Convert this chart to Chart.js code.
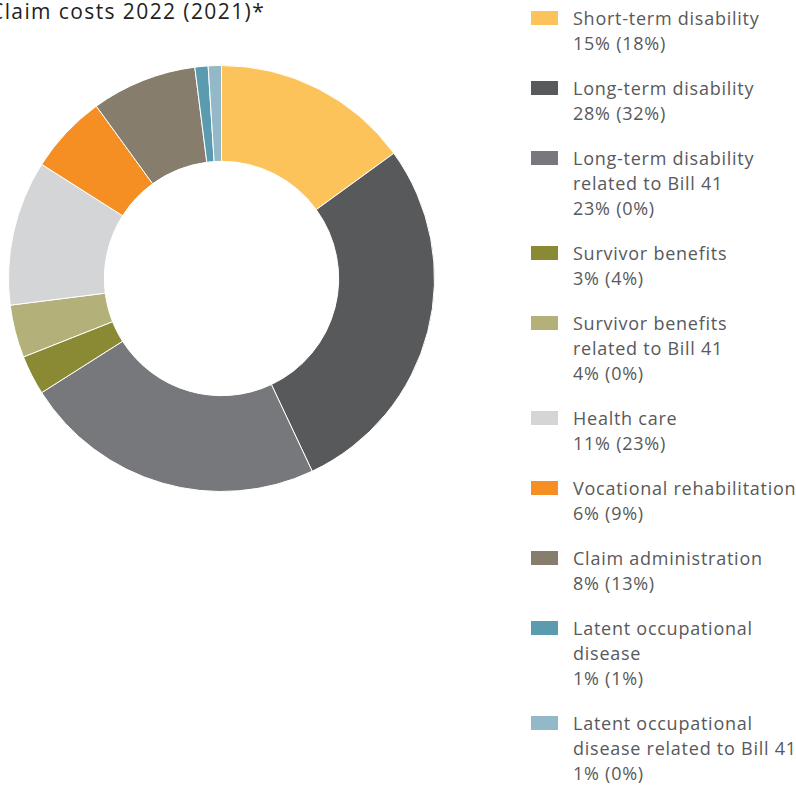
<!DOCTYPE html>
<html>
<head>
<meta charset="utf-8">
<script src="https://cdn.jsdelivr.net/npm/chart.js@4.4.0/dist/chart.umd.min.js"></script>
<style>
  html, body { margin: 0; padding: 0; background: #fff; }
  body { width: 796px; height: 785px; position: relative; overflow: hidden; font-family: "Open Sans", sans-serif; }
  #title { position: absolute; left: -10px; top: -4px; font-size: 21px; color: #231f20; white-space: nowrap; line-height: 30px; letter-spacing: 1.4px; }
  #chartBox { position: absolute; left: 7.5px; top: 65px; width: 427px; height: 427px; }
  #legend { position: absolute; left: 531px; top: 5.5px; width: 300px; }
  .item { position: relative; margin-bottom: 20px; }
  .sw { position: absolute; left: 0; top: 5px; width: 27px; height: 14px; }
  .txt { margin-left: 42px; font-size: 18px; line-height: 25px; color: #58595b; white-space: pre; letter-spacing: 0.75px; }
</style>
</head>
<body>
<div id="title">Claim costs 2022 (2021)*</div>
<div id="chartBox"><canvas id="c"></canvas></div>
<div id="legend"></div>
<script>
const categories = [
  "Short-term disability",
  "Long-term disability",
  "Long-term disability\nrelated to Bill 41",
  "Survivor benefits",
  "Survivor benefits\nrelated to Bill 41",
  "Health care",
  "Vocational rehabilitation",
  "Claim administration",
  "Latent occupational\ndisease",
  "Latent occupational\ndisease related to Bill 41"
];
const values2022 = [15, 28, 23, 3, 4, 11, 6, 8, 1, 1];
const values2021 = [18, 32, 0, 4, 0, 23, 9, 13, 1, 0];
const colors = ["#fdc35b", "#58595b", "#77787c", "#8a8a35", "#b3b07a", "#d4d5d6", "#f58f23", "#877d6c", "#5b9baf", "#93b9c8"];

new Chart(document.getElementById('c'), {
  type: 'doughnut',
  data: {
    labels: categories.map(s => s.replace(/\n/g, ' ')),
    datasets: [{
      data: values2022,
      backgroundColor: colors,
      borderColor: '#ffffff',
      borderWidth: 1,
      hoverOffset: 0
    }]
  },
  options: {
    responsive: true,
    maintainAspectRatio: false,
    animation: false,
    cutout: '55%',
    layout: { padding: 0 },
    plugins: { legend: { display: false }, tooltip: { enabled: false }, title: { display: false } }
  }
});

const legend = document.getElementById('legend');
categories.forEach((cat, i) => {
  const item = document.createElement('div');
  item.className = 'item';
  const sw = document.createElement('div');
  sw.className = 'sw';
  sw.style.background = colors[i];
  const txt = document.createElement('div');
  txt.className = 'txt';
  txt.textContent = cat + "\n" + values2022[i] + "% (" + values2021[i] + "%)";
  item.appendChild(sw);
  item.appendChild(txt);
  legend.appendChild(item);
});
</script>
</body>
</html>
